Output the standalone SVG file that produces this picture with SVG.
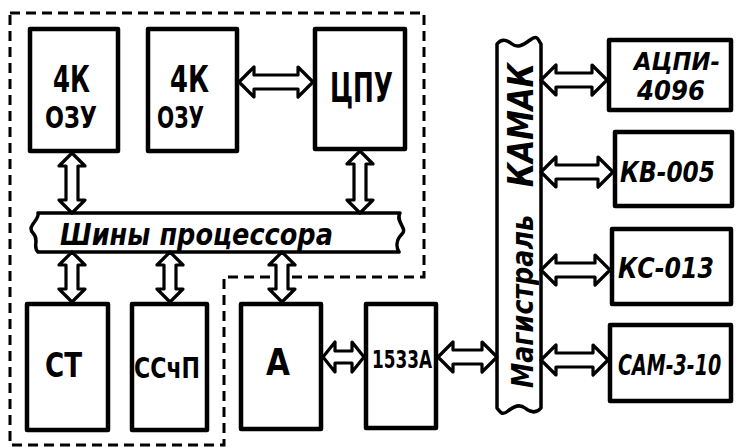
<svg xmlns="http://www.w3.org/2000/svg" width="737" height="447" viewBox="0 0 737 447">
<style>
.box{fill:#fff;stroke:#000;stroke-width:4.5;stroke-linejoin:round}
.bus{fill:#fff;stroke:#000;stroke-width:3.5;stroke-linejoin:round}
.arr{fill:#fff;stroke:#000;stroke-width:3.2;stroke-linejoin:round}
.dash{fill:none;stroke:#000;stroke-width:3;stroke-dasharray:10 6}
.t{font-family:"DejaVu Sans","Liberation Sans",sans-serif;font-weight:bold;fill:#000}
.i{font-family:"DejaVu Sans","Liberation Sans",sans-serif;font-weight:bold;font-style:italic;fill:#000}
</style>
<rect width="737" height="447" fill="#fff"/>
<path class="dash" d="M10 13 H424 V277 H224 V445 H10 Z"/>
<g id="ozu1"><rect class="box" x="30" y="29" width="88" height="122"/>
<text class="t" x="53" y="92" font-size="38" textLength="37" lengthAdjust="spacingAndGlyphs">4К</text>
<text class="t" x="45" y="128" font-size="30" textLength="52" lengthAdjust="spacingAndGlyphs">ОЗУ</text></g>
<g id="ozu2"><rect class="box" x="148" y="29" width="89" height="122"/>
<text class="t" x="170" y="92" font-size="38" textLength="39" lengthAdjust="spacingAndGlyphs">4К</text>
<text class="t" x="157" y="128" font-size="30" textLength="47" lengthAdjust="spacingAndGlyphs">ОЗУ</text></g>
<g id="cpu"><rect class="box" x="315" y="29" width="90" height="120"/>
<text class="t" x="330" y="102" font-size="40" textLength="63" lengthAdjust="spacingAndGlyphs">ЦПУ</text></g>
<g id="bus"><path class="bus" d="M38 213 L400 213 C395 222 408 228 402 234 S396 247 399 252 L38 252 C32 246 40 240 33 233 S40 220 38 213 Z"/>
<text class="i" x="60" y="245" font-size="30" textLength="273" lengthAdjust="spacingAndGlyphs">Шины процессора</text></g>
<g id="st"><rect class="box" x="27" y="304" width="81" height="126"/>
<text class="t" x="45" y="377" font-size="34" textLength="37" lengthAdjust="spacingAndGlyphs">СТ</text></g>
<g id="sschp"><rect class="box" x="132" y="304" width="75" height="126"/>
<text class="t" x="134" y="378" font-size="29" textLength="66" lengthAdjust="spacingAndGlyphs">ССчП</text></g>
<g id="a"><rect class="box" x="241" y="304" width="80" height="125"/>
<text class="t" x="266" y="375" font-size="38" textLength="24" lengthAdjust="spacingAndGlyphs">А</text></g>
<g id="b1533"><rect class="box" x="366" y="304" width="70" height="124"/>
<text class="t" x="372" y="368" font-size="25" textLength="60" lengthAdjust="spacingAndGlyphs">1533А</text></g>
<g id="kamak"><path class="bus" d="M497 44 C502 38 507 40 512 44 S522 46 530 40 S538 40 541 44 L541 408 C536 414 530 412 525 408 S514 406 508 411 S500 412 497 408 Z"/>
<text class="i" transform="translate(533,388) rotate(-90)" font-size="30" textLength="173" lengthAdjust="spacingAndGlyphs">Магистраль</text>
<text class="i" transform="translate(533,187) rotate(-90)" font-size="36" textLength="124" lengthAdjust="spacingAndGlyphs">КАМАК</text></g>
<g id="adc"><rect class="box" x="609" y="40" width="122" height="70"/>
<text class="i" x="634" y="70" font-size="25" textLength="86" lengthAdjust="spacingAndGlyphs">АЦПИ-</text>
<text class="i" x="637" y="100" font-size="27" textLength="68" lengthAdjust="spacingAndGlyphs">4096</text></g>
<g id="kv"><rect class="box" x="615" y="132" width="117" height="74"/>
<text class="i" x="620" y="182" font-size="29" textLength="95" lengthAdjust="spacingAndGlyphs">КВ-005</text></g>
<g id="ks"><rect class="box" x="612" y="229" width="119" height="75"/>
<text class="i" x="618" y="278" font-size="28" textLength="96" lengthAdjust="spacingAndGlyphs">КС-013</text></g>
<g id="cam"><rect class="box" x="610" y="325" width="121" height="76"/>
<text class="i" transform="translate(618,375) scale(0.68,1)" font-size="28">САМ-3-10</text></g>
<g id="connectors">
<path class="arr" d="M239 82 L254 67 L254 75 L298 75 L298 67 L313 82 L298 97 L298 89 L254 89 L254 97 Z"/>
<path class="arr" d="M323 357 L335 342 L335 351 L352 351 L352 342 L364 357 L352 372 L352 363 L335 363 L335 372 Z"/>
<path class="arr" d="M438 357 L453 342 L453 350 L482 350 L482 342 L497 357 L482 372 L482 364 L453 364 L453 372 Z"/>
<path class="arr" d="M541 80 L556 65 L556 73 L592 73 L592 65 L607 80 L592 95 L592 87 L556 87 L556 95 Z"/>
<path class="arr" d="M541 172 L556 157 L556 165 L598 165 L598 157 L613 172 L598 187 L598 179 L556 179 L556 187 Z"/>
<path class="arr" d="M541 270 L556 255 L556 263 L595 263 L595 255 L610 270 L595 285 L595 277 L556 277 L556 285 Z"/>
<path class="arr" d="M541 360 L556 345 L556 353 L593 353 L593 345 L608 360 L593 375 L593 367 L556 367 L556 375 Z"/>
<path class="arr" d="M72 153 L85 166 L78 166 L78 200 L85 200 L72 213 L59 200 L66 200 L66 166 L59 166 Z"/>
<path class="arr" d="M360 151 L373 164 L366 164 L366 200 L373 200 L360 213 L347 200 L354 200 L354 164 L347 164 Z"/>
<path class="arr" d="M72 252 L85 265 L78 265 L78 289 L85 289 L72 302 L59 289 L66 289 L66 265 L59 265 Z"/>
<path class="arr" d="M170 252 L183 265 L176 265 L176 289 L183 289 L170 302 L157 289 L164 289 L164 265 L157 265 Z"/>
<path class="arr" d="M282 252 L295 265 L288 265 L288 289 L295 289 L282 302 L269 289 L276 289 L276 265 L269 265 Z"/>
</g>
</svg>
